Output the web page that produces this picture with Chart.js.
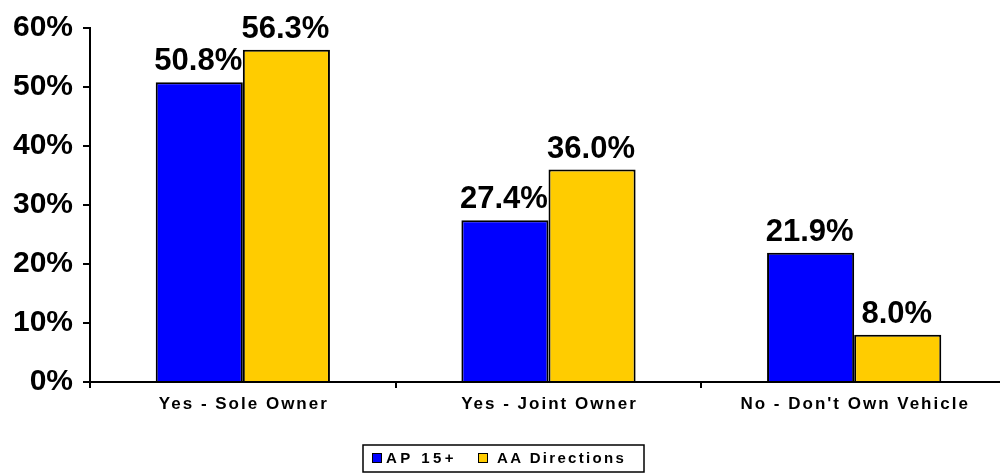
<!DOCTYPE html>
<html>
<head>
<meta charset="utf-8">
<script src="https://cdn.jsdelivr.net/npm/chart.js@4/dist/chart.umd.min.js"></script>
<style>
  html, body { margin: 0; padding: 0; background: #fff; overflow: hidden; }
  #wrap { width: 1000px; height: 475px; overflow: hidden; }
  canvas { display: block; }
</style>
</head>
<body>
<div id="wrap"><canvas id="chart" width="1010" height="475"></canvas></div>
<script>
// Vehicle ownership, share of respondents (%)
const categories = ['Yes - Sole Owner', 'Yes - Joint Owner', "No - Don't Own Vehicle"];
const seriesNames = ['AP 15+', 'AA Directions'];
const ap15 = [50.8, 27.4, 21.9];
const aaDirections = [56.3, 36.0, 8.0];
const yTicks = [0, 10, 20, 30, 40, 50, 60];

const FONT = '"Liberation Sans", Arial, Helvetica, sans-serif';
const BLUE = '#0000FF';
const YELLOW = '#FFCC00';

// Value labels above each bar, category names under the axis, boxed legend
const annotate = {
  id: 'annotate',
  afterDatasetsDraw(chart) {
    const ctx = chart.ctx;
    ctx.save();
    ctx.fillStyle = '#000';
    ctx.font = 'bold 31px ' + FONT;
    ctx.textAlign = 'center';
    ctx.textBaseline = 'alphabetic';
    chart.data.datasets.forEach((ds, di) => {
      chart.getDatasetMeta(di).data.forEach((bar, i) => {
        ctx.fillText(ds.data[i].toFixed(1) + '%', bar.x - 1, bar.y - 12);
      });
    });
    ctx.restore();
  },
  afterDraw(chart) {
    const ctx = chart.ctx;
    const xs = chart.scales.x;
    ctx.save();
    ctx.fillStyle = '#000';
    ctx.textBaseline = 'alphabetic';

    // category labels
    ctx.font = 'bold 17px ' + FONT;
    ctx.letterSpacing = '2px';
    ctx.textAlign = 'left';
    categories.forEach((c, i) => {
      const w = ctx.measureText(c).width - 2;
      ctx.fillText(c, xs.getPixelForValue(i) - w / 2, 409);
    });

    // legend
    const box = { x: 363, y: 445, w: 281, h: 27 };
    ctx.lineWidth = 1.5;
    ctx.strokeStyle = '#000';
    ctx.strokeRect(box.x, box.y, box.w, box.h);
    ctx.font = 'bold 15px ' + FONT;
    const items = [
      { name: seriesNames[0], color: BLUE, sx: 372, tx: 386, sp: '3.4px' },
      { name: seriesNames[1], color: YELLOW, sx: 478, tx: 497, sp: '2.3px' }
    ];
    ctx.lineWidth = 1;
    items.forEach(it => {
      ctx.fillStyle = it.color;
      ctx.fillRect(it.sx, 453, 9, 9);
      ctx.strokeRect(it.sx + 0.5, 453.5, 9, 9);
      ctx.fillStyle = '#000';
      ctx.letterSpacing = it.sp;
      ctx.fillText(it.name, it.tx, 463);
    });
    ctx.restore();
  }
};

new Chart(document.getElementById('chart'), {
  type: 'bar',
  data: {
    labels: categories,
    datasets: [
      { label: seriesNames[0], data: ap15, backgroundColor: BLUE, borderColor: '#000', borderWidth: 2 },
      { label: seriesNames[1], data: aaDirections, backgroundColor: YELLOW, borderColor: '#000', borderWidth: 2 }
    ]
  },
  options: {
    responsive: false,
    animation: false,
    devicePixelRatio: 1,
    layout: { padding: { top: 26, right: 3, left: 0, bottom: 0 } },
    datasets: { bar: { categoryPercentage: 0.57, barPercentage: 1.0 } },
    plugins: { legend: { display: false }, tooltip: { enabled: false } },
    scales: {
      x: {
        offset: true,
        ticks: { display: false },
        grid: { offset: true, drawOnChartArea: false, drawTicks: true, tickLength: 6, color: '#000', lineWidth: 2 },
        border: { display: true, color: '#000', width: 2 },
        afterFit(scale) { scale.height = 93; }
      },
      y: {
        min: 0,
        max: 60,
        afterBuildTicks(scale) { scale.ticks = yTicks.map(v => ({ value: v })); },
        ticks: {
          padding: 10,
          color: '#000',
          font: { family: FONT, size: 30, weight: 'bold' },
          callback: v => v + '%'
        },
        grid: { drawOnChartArea: false, drawTicks: true, tickLength: 7, color: '#000', lineWidth: 2 },
        border: { display: true, color: '#000', width: 2 },
        afterFit(scale) { scale.width = 90; }
      }
    }
  },
  plugins: [annotate]
});
</script>
</body>
</html>
